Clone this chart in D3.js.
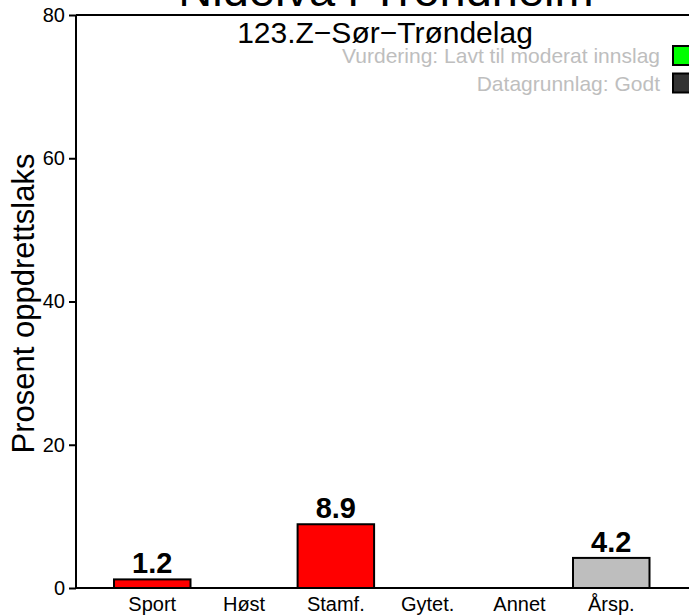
<!DOCTYPE html>
<html>
<head>
<meta charset="utf-8">
<script src="https://cdn.jsdelivr.net/npm/d3@7"></script>
<style>
    body { margin: 0; background: #fff; }
    svg { display: block; font-family: "Liberation Sans", Arial, sans-serif; }
</style>
</head>
<body>
<div id="root"></div>
<script>
// Bar chart of escaped farmed salmon share per sample type
"use strict";

/* ************************************* Data ******************************** */

const categories = ["Sport", "Høst", "Stamf.", "Gytet.", "Annet", "Årsp."];
const values = [1.2, null, 8.9, null, null, 4.2];
const barColors = ["red", "red", "red", "red", "red", "#bebebe"];
const yTicks = [0, 20, 40, 60, 80];

const title = "Nidelva i Trondheim";
const subtitle = "123.Z\u2212Sør\u2212Trøndelag";
const legendLabels = ["Vurdering: Lavt til moderat innslag", "Datagrunnlag: Godt"];
const legendColors = ["#00ff00", "#333333"];

/* ************************************* Set up ******************************** */

const width = 689;
const height = 616;

const margin = {
    top: 15,
    right: -3,
    bottom: 28,
    left: 76
};

let drawWidth = width - margin.left - margin.right;
let drawHeight = height - margin.top - margin.bottom;

let svg = d3.select('#root')
    .append('svg')
    .attr('width', width)
    .attr('height', height);

/* ************************************* Scales ******************************** */

let xScale = d3.scaleBand()
    .domain(categories)
    .range([106.35, 657.15])
    .paddingInner(1 / 6)
    .paddingOuter(1 / 12);

let yScale = d3.scaleLinear()
    .domain([0, 80])
    .range([margin.top + drawHeight, margin.top]);

/* ************************************* Axes ******************************** */

let yAxis = d3.axisLeft(yScale)
    .tickValues(yTicks)
    .tickSize(7)
    .tickPadding(4)
    .tickFormat(d3.format('d'));

let yAxisG = svg.append('g')
    .attr('transform', `translate(${margin.left},0)`)
    .call(yAxis);

yAxisG.select('.domain').remove();
yAxisG.selectAll('line').attr('stroke', '#000').attr('stroke-width', 2);
yAxisG.selectAll('text')
    .attr('font-size', 20)
    .attr('fill', '#000')
    .attr('font-family', '"Liberation Sans", Arial, sans-serif');

// Left axis line plus the top and bottom frame lines
svg.append('line')
    .attr('x1', margin.left).attr('x2', margin.left)
    .attr('y1', yScale(80)).attr('y2', yScale(0))
    .attr('stroke', '#000').attr('stroke-width', 2);

[80, 0].forEach((v) => {
    svg.append('line')
        .attr('x1', margin.left).attr('x2', width)
        .attr('y1', yScale(v)).attr('y2', yScale(v))
        .attr('stroke', '#000').attr('stroke-width', 2);
});

/* ************************************* Bars ******************************** */

let barData = categories.map((c, i) => ({ cat: c, value: values[i], color: barColors[i] }))
    .filter((d) => d.value !== null);

svg.selectAll('rect.bar')
    .data(barData)
    .enter().append('rect')
    .attr('class', 'bar')
    .attr('x', (d) => xScale(d.cat))
    .attr('y', (d) => yScale(d.value))
    .attr('width', xScale.bandwidth())
    .attr('height', (d) => yScale(0) - yScale(d.value))
    .attr('fill', (d) => d.color)
    .attr('stroke', '#000')
    .attr('stroke-width', 2);

svg.selectAll('text.value')
    .data(barData)
    .enter().append('text')
    .attr('class', 'value')
    .attr('x', (d) => xScale(d.cat) + xScale.bandwidth() / 2)
    .attr('y', (d) => yScale(d.value) - 6)
    .attr('text-anchor', 'middle')
    .attr('font-size', 29)
    .attr('font-weight', 'bold')
    .text((d) => d.value.toFixed(1));

// Category labels under the baseline
svg.selectAll('text.cat')
    .data(categories)
    .enter().append('text')
    .attr('class', 'cat')
    .attr('x', (d) => xScale(d) + xScale.bandwidth() / 2)
    .attr('y', 611)
    .attr('text-anchor', 'middle')
    .attr('font-size', 20)
    .text((d) => d);

/* ************************************* Titles and labels ******************************** */

svg.append('text')
    .attr('x', 386)
    .attr('y', 6)
    .attr('text-anchor', 'middle')
    .attr('font-size', 47)
    .text(title);

svg.append('text')
    .attr('x', 385)
    .attr('y', 43)
    .attr('text-anchor', 'middle')
    .attr('font-size', 30)
    .text(subtitle);

svg.append('text')
    .attr('transform', `translate(34,${(yScale(0) + yScale(80)) / 2 + 2}) rotate(-90)`)
    .attr('text-anchor', 'middle')
    .attr('font-size', 31)
    .text("Prosent oppdrettslaks");

/* ************************************* Legend ******************************** */

let legendG = svg.selectAll('g.legend')
    .data(legendLabels)
    .enter().append('g')
    .attr('class', 'legend')
    .attr('transform', (d, i) => `translate(0,${46 + i * 27.5})`);

legendG.append('rect')
    .attr('x', 673)
    .attr('y', 0)
    .attr('width', 20)
    .attr('height', 19)
    .attr('fill', (d, i) => legendColors[i])
    .attr('stroke', '#000')
    .attr('stroke-width', 2);

legendG.append('text')
    .attr('x', 660)
    .attr('y', 17)
    .attr('text-anchor', 'end')
    .attr('font-size', 21)
    .attr('fill', '#bebebe')
    .text((d) => d);
</script>
</body>
</html>
